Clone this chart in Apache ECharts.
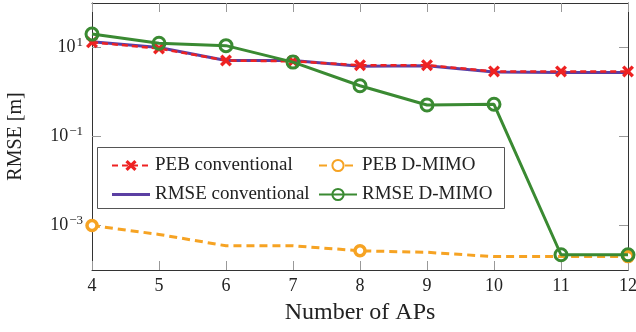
<!DOCTYPE html>
<html>
<head>
<meta charset="utf-8">
<script src="https://cdn.jsdelivr.net/npm/echarts@6/dist/echarts.min.js"></script>
<style>
  html, body { margin: 0; padding: 0; background: #fff; }
  #chart { width: 636px; height: 332px; }
</style>
</head>
<body>
<div id="chart"></div>
<script>
// Number of access points
const aps = [4, 5, 6, 7, 8, 9, 10, 11, 12];

// RMSE / PEB values in metres
const pebConventional = [13.1, 9.5, 5.1, 4.9, 4.0, 4.0, 2.9, 2.9, 2.9];
const rmseConventional = [13.5, 10.0, 5.1, 5.1, 3.8, 3.9, 2.8, 2.75, 2.75];
const pebDMimo = [1.0e-3, 6.3e-4, 3.5e-4, 3.5e-4, 2.7e-4, 2.5e-4, 2.0e-4, 2.0e-4, 2.0e-4];
const rmseDMimo = [20, 12.5, 11, 4.7, 1.38, 0.51, 0.53, 2.2e-4, 2.2e-4];

// only every 4th point of PEB D-MIMO carries a marker
const pebDMimoMarked = [4, 8, 12];

const yTicks = [1e-3, 1e-1, 1e1];

const serif = "'Liberation Serif', 'DejaVu Serif', serif";
const crossPath = "path://M0,2 L2,0 L5,3 L8,0 L10,2 L7,5 L10,8 L8,10 L5,7 L2,10 L0,8 L3,5 Z";
const plainLine = "path://M0,0 L40,0 L40,3 L0,3 Z";

const pairs = (ys) => aps.map((x, i) => [x, ys[i]]);

const chart = echarts.init(document.getElementById("chart"));

const tickStyle = { color: "#999", width: 1 };
const frameStyle = { color: "#333", width: 1 };

const expLabel = (v) => {
  const e = Math.round(Math.log10(v));
  const s = e < 0 ? "\u2212" + Math.abs(e) : String(e);
  return "10{sup|" + s + "}";
};

const legendText = { fontFamily: serif, fontSize: 19, color: "#222" };

const option = {
  animation: false,
  grid: { left: 92, right: 8, top: 3, bottom: 62, outerBoundsMode: "none", containLabel: false },
  xAxis: [
    {
      type: "value",
      min: 4,
      max: 12,
      interval: 1,
      name: "Number of APs",
      nameLocation: "middle",
      nameGap: 31,
      nameTextStyle: { fontFamily: serif, fontSize: 24, color: "#222" },
      axisLine: { show: true, lineStyle: frameStyle },
      axisTick: { inside: true, length: 9, lineStyle: tickStyle },
      axisLabel: { fontFamily: serif, fontSize: 18, color: "#222", margin: 7 },
      splitLine: { show: false },
    },
    {
      type: "value",
      position: "top",
      min: 4,
      max: 12,
      interval: 1,
      axisLine: { show: true, lineStyle: frameStyle },
      axisTick: { inside: true, length: 9, lineStyle: tickStyle },
      axisLabel: { show: false },
      splitLine: { show: false },
    },
  ],
  yAxis: [
    {
      type: "log",
      min: 1e-4,
      max: 1e2,
      name: "RMSE [m]",
      nameLocation: "middle",
      nameGap: 66,
      nameTextStyle: { fontFamily: serif, fontSize: 20, color: "#222" },
      axisLine: { show: true, lineStyle: frameStyle },
      axisTick: { inside: true, length: 9, lineStyle: tickStyle, customValues: yTicks },
      axisLabel: {
        customValues: yTicks,
        formatter: expLabel,
        fontFamily: serif,
        fontSize: 18,
        color: "#222",
        margin: 9,
        rich: {
          sup: { fontFamily: serif, fontSize: 13, color: "#222", verticalAlign: "top", padding: [0, 0, 10, 1] },
        },
      },
      splitLine: { show: false },
      minorTick: { show: false },
    },
    {
      type: "log",
      position: "right",
      min: 1e-4,
      max: 1e2,
      axisLine: { show: true, lineStyle: frameStyle },
      axisTick: { inside: true, length: 9, lineStyle: tickStyle, customValues: yTicks },
      axisLabel: { show: false },
      splitLine: { show: false },
    },
  ],
  legend: [
    {
      orient: "vertical",
      left: 106,
      top: 151,
      itemWidth: 38,
      itemHeight: 14,
      itemGap: 10,
      z: 20,
      textStyle: legendText,
      data: ["PEB conventional", { name: "RMSE conventional", icon: plainLine }],
    },
    {
      orient: "vertical",
      left: 313,
      top: 151,
      itemWidth: 38,
      itemHeight: 14,
      itemGap: 10,
      z: 20,
      textStyle: legendText,
      data: ["PEB D-MIMO", "RMSE D-MIMO"],
    },
  ],
  graphic: [
    {
      type: "rect",
      z: 15,
      shape: { x: 97.5, y: 147.5, width: 407, height: 61 },
      style: { fill: "#fff", stroke: "#555", lineWidth: 1 },
    },
  ],
  series: [
    {
      name: "RMSE conventional",
      type: "line",
      data: pairs(rmseConventional),
      showSymbol: false,
      symbol: "none",
      z: 2,
      lineStyle: { color: "#5b3fa3", width: 3 },
      itemStyle: { color: "#5b3fa3" },
    },
    {
      name: "PEB conventional",
      type: "line",
      data: pairs(pebConventional),
      symbol: crossPath,
      symbolSize: 12,
      z: 3,
      lineStyle: { color: "#ee2222", width: 2.5, type: [6, 4] },
      itemStyle: { color: "#ee2222" },
    },
    {
      name: "PEB D-MIMO",
      type: "line",
      data: aps.map((x, i) => ({
        value: [x, pebDMimo[i]],
        symbolSize: pebDMimoMarked.includes(x) ? 10 : 0,
      })),
      symbol: "circle",
      z: 4,
      lineStyle: { color: "#f6a323", width: 3, type: [8, 5] },
      itemStyle: { color: "#fff", borderColor: "#f6a323", borderWidth: 3.5 },
    },
    {
      name: "RMSE D-MIMO",
      type: "line",
      data: pairs(rmseDMimo),
      symbol: "circle",
      symbolSize: 12,
      z: 5,
      lineStyle: { color: "#3a8a32", width: 3 },
      itemStyle: { color: "rgba(0,0,0,0)", borderColor: "#3a8a32", borderWidth: 3 },
    },
  ],
};

chart.setOption(option);
</script>
</body>
</html>
